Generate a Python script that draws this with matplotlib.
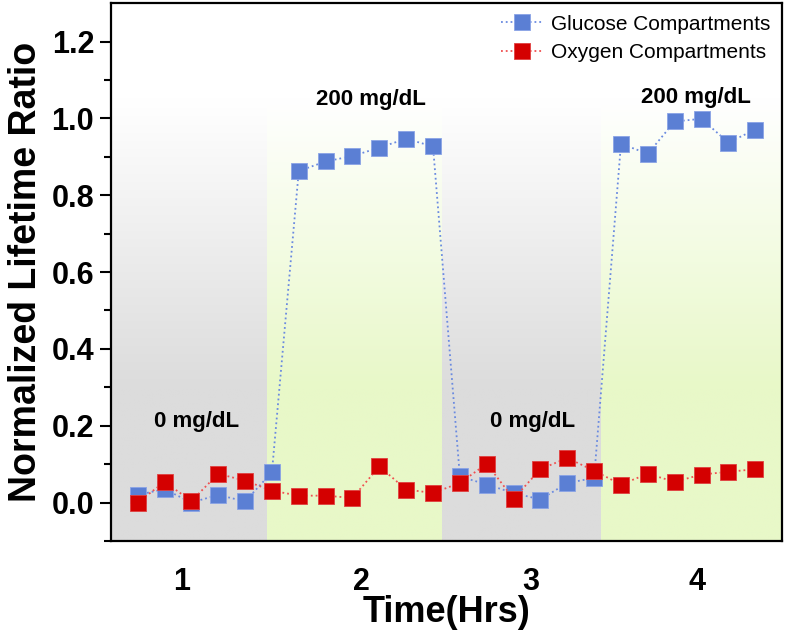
import numpy as np
import matplotlib.pyplot as plt
from matplotlib.colors import to_rgb

plt.rcParams['font.family'] = ['Liberation Sans', 'DejaVu Sans']

# measurement index (points every ~10 min)
points = [1, 2, 3, 4, 5, 6, 7, 8, 9, 10, 11, 12,
          13, 14, 15, 16, 17, 18, 19, 20, 21, 22, 23, 24]
glucose = [0.02, 0.035, 0.0, 0.02, 0.003, 0.079,
           0.863, 0.888, 0.902, 0.924, 0.947, 0.927,
           0.068, 0.047, 0.025, 0.008, 0.051, 0.064,
           0.934, 0.908, 0.992, 0.999, 0.937, 0.971]
oxygen = [0.0, 0.054, 0.004, 0.075, 0.057, 0.031,
          0.018, 0.018, 0.012, 0.094, 0.034, 0.025,
          0.051, 0.101, 0.010, 0.087, 0.116, 0.083,
          0.047, 0.075, 0.054, 0.073, 0.080, 0.087]

hour_ticks = [2.65, 9.35, 15.65, 21.85]
hour_labels = ['1', '2', '3', '4']

# shaded concentration phases: (start, end, colour)
phases = [(0, 5.83, '#dcdcdc'), (5.83, 12.34, '#e8f8c8'),
          (12.34, 18.25, '#dcdcdc'), (18.25, 25, '#e8f8c8')]
phase_text = ['0 mg/dL', '200 mg/dL', '0 mg/dL', '200 mg/dL']
text_x = [3.2, 9.7, 15.7, 21.8]
text_y = [0.21, 1.05, 0.21, 1.055]

fig = plt.figure(figsize=(7.86, 6.32), dpi=100)
ax = fig.add_axes([0.141, 0.144, 0.854, 0.851])
ylo, yhi = -0.1, 1.3
ax.set_xlim(0, 25)
ax.set_ylim(ylo, yhi)

# vertical gradient: white at top fading to the phase colour
yy = np.linspace(yhi, ylo, 200)
t = np.clip((1.05 - yy) / 0.75, 0, 1)[:, None]
for x0, x1, c in phases:
    rgb = np.array(to_rgb(c))
    img = (1 - t)[:, :, None] * np.ones(3) + t[:, :, None] * rgb
    img = np.repeat(img, 2, axis=1)
    ax.imshow(img, extent=[x0, x1, ylo, yhi], aspect='auto', zorder=0,
              interpolation='bilinear')

ax.plot(points, glucose, ls=':', lw=1.3, color='#6a8ae0', marker='s', ms=11,
        mfc='#5b7fd4', mec='#8aa3e6', mew=0.6, label='Glucose Compartments', zorder=3)
ax.plot(points, oxygen, ls=':', lw=1.3, color='#f05050', marker='s', ms=11,
        mfc='#d40000', mec='#e04040', mew=0.6, label='Oxygen Compartments', zorder=4)

for s, x, y in zip(phase_text, text_x, text_y):
    ax.text(x, y, s, ha='center', va='center', fontsize=16, fontweight='bold', zorder=5)

ax.set_xticks(hour_ticks)
ax.set_xticklabels(hour_labels)
ax.set_yticks([0, 0.2, 0.4, 0.6, 0.8, 1.0, 1.2])
ax.set_yticks(np.arange(-0.1, 1.3, 0.1), minor=True)
ax.tick_params(axis='x', length=0, pad=19, labelsize=22)
ax.tick_params(axis='y', which='major', length=8, width=1.5, pad=4, labelsize=22)
ax.tick_params(axis='y', which='minor', length=5, width=1.5)
for lab in ax.get_xticklabels() + ax.get_yticklabels():
    lab.set_fontweight('bold')
for sp in ax.spines.values():
    sp.set_linewidth(1.6)

ax.set_xlabel('Time(Hrs)', fontsize=26, fontweight='bold')
ax.set_ylabel('Normalized Lifetime Ratio', fontsize=27, fontweight='bold')
ax.xaxis.set_label_coords(0.5, -0.1)
ax.yaxis.set_label_coords(-0.1, 0.5)

ax.legend(loc='upper right', frameon=False, fontsize=15, handlelength=2.0,
          borderaxespad=0.0, borderpad=0.55, labelspacing=0.45, handletextpad=0.4)

fig.savefig('out.png', dpi=100)
